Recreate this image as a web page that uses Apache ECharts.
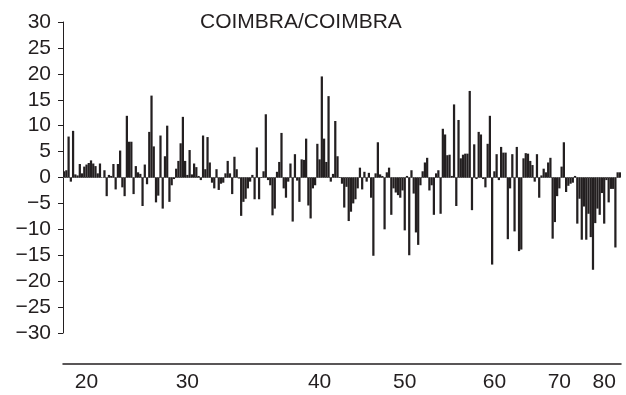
<!DOCTYPE html>
<html lang="en">
<head>
    <meta charset="UTF-8" />
    <title>COIMBRA/COIMBRA</title>
    <script src="https://cdn.jsdelivr.net/npm/echarts@6/dist/echarts.min.js"></script>
    <style>
        html, body { margin: 0; padding: 0; background: #fff; }
    </style>
</head>
<body>
    <div id="chart" style="width: 626px; height: 395px"></div>
    <script>
        // values, left to right
        var values = [
            1.2, 1.4, 7.9, -0.8, 9.0, 0.6, 0.4, 2.6, 0.8, 2.1, 2.5, 2.8, 3.3, 2.7, 2.2, 0.8, 2.7, 0, 1.4, -3.6, 0.5, 0.3,
            2.6, -2.3, 2.6, 5.2, -1.9, -3.6, 11.9, 6.9, 6.9, -3.2, 2.2, 1.0, 0.7, -5.5, 2.5, -1.3, 8.8, 15.8, 6.0, -4.8, -3.5, 8.1, -6.0,
            4.1, 10.0, -4.7, -1.5, -0.3, 1.7, 3.2, 6.6, 11.7, 3.2, 0.5, 5.3, 0.6, 2.7, 2.0, 0.3, -0.5, 8.1, 1.6, 7.8, 2.9, -1.0, -2.1,
            1.6, -2.4, -1.2, -1.0, 0.8, 3.2, 0.8, -3.2, 4.0, 1.6, -0.2, -7.4, -4.7, -4.1, -2.1, -0.8, 0.5, -4.2, 5.8, -4.2, 0.1, 1.2, 12.2,
            -0.5, -1.5, -7.3, -6.0, 1.1, 3.0, 8.6, -2.1, -3.9, -0.8, 2.7, -8.5, 4.5, -0.6, -4.7, 3.5, 3.4, 7.5, -5.4, -7.9, -2.1, -1.5, 6.5,
            3.5, 19.5, 7.5, 3.0, 15.7, -0.8, 0.7, 10.9, 4.1, 0.1, -1.2, -5.8, -1.8, -8.4, -6.6, -5.0, -4.2, -2.1, 1.9, -2.3, 1.1, -0.8, 0.9, -3.9,
            -15.1, 0.8, 6.8, 0.6, 0.3, -10.0, 1.0, 1.9, -7.2, -2.1, -2.9, -3.4, -3.9, -2.5, -10.2, 0.3, -15.0, 1.4, -3.1, -10.6, -13.0,
            -1.5, 1.2, 2.9, 3.8, -2.5, -1.5, -7.2, 0.8, 1.4, -7.0, 9.4, 8.3, 4.3, 4.4, 0.3, 14.1, -5.5, 11.1, 3.7, 4.4, 4.6, 4.6, 16.7, -6.3,
            6.4, -0.3, 8.8, 8.3, -0.3, -1.9, 6.5, 11.9, -16.8, 1.2, 4.5, -0.5, 5.9, 4.8, 4.8, -11.9, -2.1, 4.5, -10.4, 5.9, -14.2, -13.9, 3.7,
            4.7, 4.6, 3.2, 2.4, -0.8, 4.5, -3.9, 0.4, 1.7, 1.0, 2.9, 3.8, -11.8, -8.6, -3.6, -2.1, 2.1, 6.8, -2.8, -1.6, -1.2, -1.0, 0.3,
            -8.9, -4.1, -12.0, -5.6, -12.0, -7.0, -11.5, -17.8, -8.8, -6.0, -7.2, -3.0, -8.9, -0.5, -4.8, -2.2, -2.2, -13.5, 1.0, 1.0
        ];

        // bottom scale labels and the bar index they sit under
        var tickLabels = ["20", "30", "40", "50", "60", "70", "80"];
        var tickIndex = [10, 55, 114, 152, 192, 221, 241];

        var categories = [];
        for (var i = 0; i < values.length; i++) {
            categories.push(i);
        }

        var font = "'Liberation Sans', Arial, Helvetica, sans-serif";
        var mCharts = echarts.init(document.getElementById("chart"));

        var option = {
            animation: false,
            title: {
                text: "COIMBRA/COIMBRA",
                left: 195,
                top: 7,
                textStyle: { fontFamily: font, fontSize: 21, fontWeight: "normal", color: "#231f20" },
            },
            grid: { left: 63, right: 5, top: 22, bottom: 62 },
            xAxis: [
                {
                    type: "category",
                    data: categories,
                    axisLine: { onZero: true, lineStyle: { color: "#777", width: 1, type: "dotted" } },
                    axisTick: { show: false },
                    axisLabel: { show: false },
                },
                {
                    type: "category",
                    data: categories,
                    position: "bottom",
                    offset: 31,
                    axisLine: { onZero: false, lineStyle: { color: "#231f20", width: 1.5 } },
                    axisTick: { show: false },
                    axisLabel: {
                        margin: 8,
                        fontFamily: font,
                        fontSize: 21,
                        color: "#231f20",
                        interval: function (index) {
                            return tickIndex.indexOf(index) >= 0;
                        },
                        formatter: function (value, index) {
                            var k = tickIndex.indexOf(index);
                            return k >= 0 ? tickLabels[k] : "";
                        },
                    },
                },
            ],
            yAxis: {
                type: "value",
                min: -30,
                max: 30,
                interval: 5,
                axisLine: { show: true, lineStyle: { color: "#231f20", width: 1 } },
                axisTick: { show: true, length: 5, lineStyle: { color: "#231f20" } },
                splitLine: { show: false },
                axisLabel: {
                    margin: 12,
                    fontFamily: font,
                    fontSize: 21,
                    color: "#231f20",
                    formatter: function (v) {
                        return String(v).replace("-", "\u2212");
                    },
                },
            },
            series: [
                {
                    type: "bar",
                    data: values,
                    barWidth: "100%",
                    itemStyle: { color: "#231f20" },
                },
            ],
        };
        mCharts.setOption(option);
    </script>
</body>
</html>
